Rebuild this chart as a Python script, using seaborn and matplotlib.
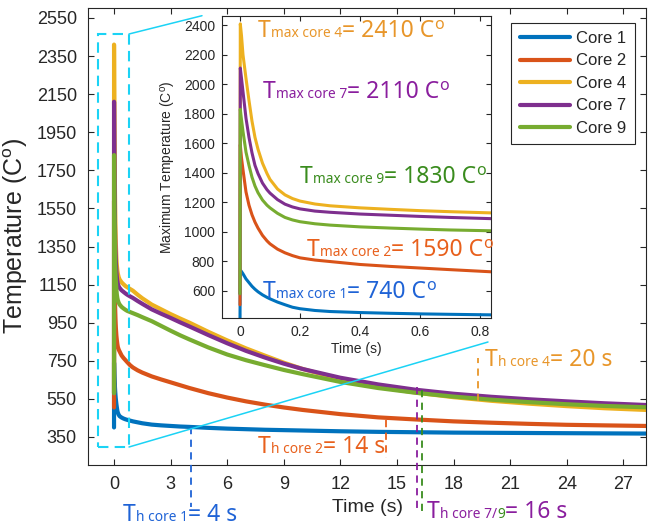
import numpy as np
import pandas as pd
import matplotlib
matplotlib.use("Agg")
import matplotlib.pyplot as plt
import seaborn as sns
from matplotlib.offsetbox import TextArea, HPacker, AnnotationBbox
from matplotlib.lines import Line2D
from matplotlib.patches import Rectangle

# ---------------- data ----------------
time_s = [0, 0.001, 0.005, 0.01, 0.02, 0.03, 0.04, 0.05, 0.06, 0.075,
          0.09, 0.1, 0.125, 0.15, 0.175, 0.2, 0.25, 0.3, 0.4, 0.5,
          0.6, 0.7, 0.85, 1.0, 1.25, 1.5, 2, 2.5, 3, 3.5,
          4, 5, 6, 7, 8, 9, 10, 12, 14, 16,
          18, 20, 22, 24, 26, 28.2]
core1 = [400, 740, 730, 715, 680, 655, 630, 610, 593, 572,
         555, 545, 523, 505, 488, 478, 466, 459, 452, 447,
         443, 440, 436, 432, 427, 422, 415, 411, 408, 405,
         403, 398, 394, 391, 388, 386, 384, 380, 377, 375,
         373, 372, 371, 370, 369, 368]
core2 = [505, 1590, 1500, 1420, 1270, 1180, 1115, 1065, 1025, 975,
         938, 918, 882, 857, 838, 823, 808, 798, 778, 765,
         754, 743, 727, 715, 700, 688, 668, 652, 637, 622,
         607, 580, 557, 537, 520, 505, 492, 470, 453, 442,
         432, 425, 419, 414, 411, 408]
core4 = [580, 2410, 2330, 2200, 2040, 1890, 1750, 1640, 1560, 1465,
         1395, 1355, 1290, 1250, 1225, 1208, 1188, 1176, 1162, 1152,
         1143, 1136, 1127, 1118, 1097, 1078, 1045, 1020, 995, 972,
         950, 902, 857, 815, 777, 740, 707, 652, 613, 583,
         559, 540, 525, 512, 501, 492]
core7 = [580, 2110, 2040, 1950, 1770, 1640, 1535, 1450, 1395, 1330,
         1285, 1262, 1218, 1187, 1168, 1155, 1140, 1132, 1120, 1112,
         1104, 1097, 1088, 1080, 1064, 1049, 1020, 997, 975, 952,
         930, 885, 842, 802, 767, 735, 707, 661, 626, 598,
         577, 561, 548, 537, 527, 518]
core9 = [580, 1830, 1760, 1680, 1540, 1450, 1370, 1310, 1265, 1215,
         1180, 1162, 1125, 1097, 1080, 1068, 1054, 1045, 1033, 1025,
         1018, 1012, 1006, 1000, 990, 979, 958, 933, 908, 884,
         862, 820, 783, 753, 727, 702, 680, 639, 607, 582,
         562, 546, 533, 522, 513, 506]

cores = ["Core 1", "Core 2", "Core 4", "Core 7", "Core 9"]
series = [core1, core2, core4, core7, core9]
colors = ["#0072BD", "#D95319", "#EDB120", "#7E2F8E", "#77AC30"]

main_xticks = [0, 3, 6, 9, 12, 15, 18, 21, 24, 27]
main_yticks = [350, 550, 750, 950, 1150, 1350, 1550, 1750, 1950, 2150, 2350, 2550]
inset_xticks = [0, 0.2, 0.4, 0.6, 0.8]
inset_yticks = [600, 800, 1000, 1200, 1400, 1600, 1800, 2000, 2200, 2400]

tmax_labels = ["max core 4", "max core 7", "max core 9", "max core 2", "max core 1"]
tmax_values = ["2410", "2110", "1830", "1590", "740"]

df = pd.DataFrame({
    "Time": np.tile(time_s, len(cores)),
    "Temp": np.concatenate(series),
    "Core": np.repeat(cores, len(time_s)),
})

# ---------------- style ----------------
sns.set_style("ticks")
plt.rcParams["font.family"] = ["Liberation Sans", "DejaVu Sans"]
plt.rcParams["mathtext.fontset"] = "custom"
plt.rcParams["mathtext.rm"] = "Liberation Sans"
plt.rcParams["mathtext.default"] = "regular"
plt.rcParams["xtick.direction"] = "in"
plt.rcParams["ytick.direction"] = "in"
plt.rcParams["xtick.top"] = True
plt.rcParams["ytick.right"] = True
plt.rcParams["axes.edgecolor"] = "#262626"
plt.rcParams["xtick.color"] = "#262626"
plt.rcParams["ytick.color"] = "#262626"

W, H = 648, 528
fig = plt.figure(figsize=(W / 100, H / 100), dpi=100)


def fx(px):
    return px / W


def fy(py):
    return 1 - py / H


pal = dict(zip(cores, colors))

# ---------------- main axes ----------------
ax = fig.add_axes([fx(88), fy(465), fx(646) - fx(88), fy(8) - fy(465)])
sns.lineplot(data=df, x="Time", y="Temp", hue="Core", hue_order=cores, palette=pal,
             linewidth=3.0, estimator=None, sort=False, ax=ax, legend=True)
ax.set_xlim(-1.38, 28.2)
ax.set_ylim(203, 2602)
ax.set_xticks(main_xticks)
ax.set_yticks(main_yticks)
ax.tick_params(labelsize=13, length=4, width=0.8, pad=8)
ax.set_xlabel("Time (s)", fontsize=14, labelpad=4)
ax.set_ylabel("Temperature (C$^{o}$)", fontsize=18, labelpad=5)
for s in ax.spines.values():
    s.set_linewidth(0.8)

handles, labels = ax.get_legend_handles_labels()
for h in handles:
    h.set_linewidth(3.0)
leg = ax.legend(handles, labels, loc="upper right", bbox_to_anchor=(0.980, 0.968),
                borderaxespad=0, frameon=True, fancybox=False, edgecolor="#262626",
                framealpha=1, fontsize=12, handlelength=3.0, labelspacing=0.45,
                handletextpad=0.4, borderpad=0.5)
leg.get_frame().set_linewidth(0.8)

cyan = "#1BD3F5"
ax.add_patch(Rectangle((-0.85, 296), 1.63, 2170, fill=False, ls=(0, (5, 3)),
                       ec=cyan, lw=1.5, zorder=5))
ax.add_line(Line2D([fx(129), fx(202)], [fy(34), fy(15.7)], transform=fig.transFigure,
                   color=cyan, lw=1.1, clip_on=False, zorder=5))
ax.add_line(Line2D([fx(129), fx(488)], [fy(447), fy(342)], transform=fig.transFigure,
                   color=cyan, lw=1.1, clip_on=False, zorder=5))

# half-time guide lines
txt_blue = "#1F63D6"
txt_orange = "#E8601C"
txt_yellow = "#E8962A"
txt_purple = "#8A1E9E"
txt_green = "#3A8C1E"
dash = (0, (4, 3))
ax.plot([4.06, 4.06], [403, -17], ls=dash, color=txt_blue, lw=1.3, clip_on=False, zorder=4)
ax.plot([14.4, 14.4], [440, 240], ls=dash, color=txt_orange, lw=1.3, clip_on=False, zorder=4)
ax.plot([19.3, 19.3], [540, 765], ls=dash, color=txt_yellow, lw=1.3, clip_on=False, zorder=4)
ax.plot([16.04, 16.04], [612, -40], ls=dash, color=txt_purple, lw=1.3, clip_on=False, zorder=4)
ax.plot([16.34, 16.34], [595, -40], ls=dash, color=txt_green, lw=1.3, clip_on=False, zorder=4)

# ---------------- inset ----------------
ax2 = fig.add_axes([fx(222), fy(318), fx(491) - fx(222), fy(16) - fy(318)])
sns.lineplot(data=df, x="Time", y="Temp", hue="Core", hue_order=cores, palette=pal,
             linewidth=2.2, estimator=None, sort=False, ax=ax2, legend=False)
ax2.set_xlim(-0.06, 0.837)
ax2.set_ylim(415, 2463)
ax2.set_xticks(inset_xticks)
ax2.set_xticklabels(["0", "0.2", "0.4", "0.6", "0.8"])
ax2.set_yticks(inset_yticks)
ax2.tick_params(labelsize=10, length=3.5, width=0.8, pad=5)
ax2.set_xlabel("Time (s)", fontsize=10, labelpad=2)
ax2.set_ylabel("Maximum Temperature (C$^{o}$)", fontsize=10, labelpad=4)
for s in ax2.spines.values():
    s.set_linewidth(0.8)

# ---------------- annotations ----------------
AF = ["Noto Sans", "DejaVu Sans"]


def rich(px, py, pieces, size):
    kids = []
    for text, col, scale in pieces:
        kids.append(TextArea(text, textprops=dict(color=col, fontsize=size * scale,
                                                  family=AF)))
    box = HPacker(children=kids, align="baseline", pad=0, sep=0)
    ab = AnnotationBbox(box, (fx(px), fy(py)), xycoords="figure fraction",
                        box_alignment=(0, 0.5), frameon=False, pad=0,
                        annotation_clip=False, zorder=10)
    fig.add_artist(ab)


S = 16.5
sub = 0.6
tm_pos = [(258, 31), (263, 92), (300, 177), (307, 250), (263, 292)]
tm_cols = [txt_yellow, txt_purple, txt_green, txt_orange, txt_blue]
for (px, py), lab, val, col in zip(tm_pos, tmax_labels, tmax_values, tm_cols):
    rich(px, py, [("T", col, 1.0), (lab, col, sub), ("= " + val + " C", col, 1.0),
                  ("$^{o}$", col, 1.0)], S)

rich(123, 515, [("T", txt_blue, 1.0), ("h core 1", txt_blue, sub), ("= 4 s", txt_blue, 1.0)], S)
rich(258, 447, [("T", txt_orange, 1.0), ("h core 2", txt_orange, sub), ("= 14 s", txt_orange, 1.0)], S)
rich(485, 360, [("T", txt_yellow, 1.0), ("h core 4", txt_yellow, sub), ("= 20 s", txt_yellow, 1.0)], S)
rich(427, 512, [("T", txt_purple, 1.0), ("h core 7/", txt_purple, sub), ("9", txt_green, sub),
                ("= 16 s", txt_purple, 1.0)], S)

fig.savefig("out.png", dpi=100)
